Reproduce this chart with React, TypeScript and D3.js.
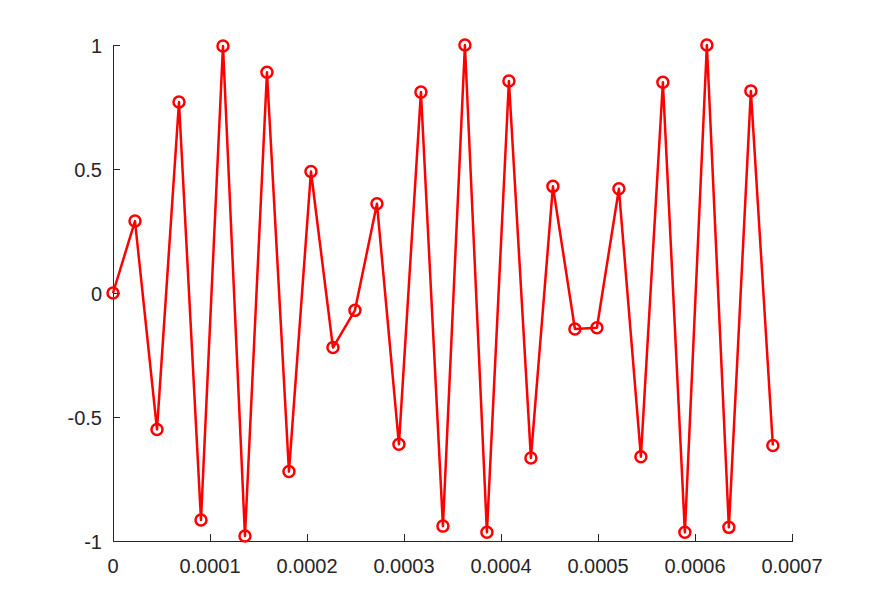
import React from "react";
import * as d3 from "d3";

const sampleRate = 44100;
const values: number[] = [
  0, 0.29, -0.55, 0.77, -0.915, 0.996, -0.98, 0.89, -0.72, 0.49,
  -0.22, -0.07, 0.36, -0.61, 0.81, -0.94, 1.0, -0.965, 0.855, -0.665,
  0.43, -0.145, -0.14, 0.42, -0.66, 0.85, -0.965, 1.0, -0.945, 0.815,
  -0.615,
];
const xTicks: number[] = [0, 0.0001, 0.0002, 0.0003, 0.0004, 0.0005, 0.0006, 0.0007];
const xTickLabels: string[] = ["0", "0.0001", "0.0002", "0.0003", "0.0004", "0.0005", "0.0006", "0.0007"];
const yTicks: number[] = [-1, -0.5, 0, 0.5, 1];
const yTickLabels: string[] = ["-1", "-0.5", "0", "0.5", "1"];

const W = 875;
const H = 608;
const left = 113;
const right = 792;
const top = 45;
const bottom = 541;

export default function App() {
  const x = d3.scaleLinear().domain([0, 0.0007]).range([left, right]);
  const y = d3.scaleLinear().domain([-1, 1]).range([bottom, top]);
  const pts = values.map((v, i) => [i / sampleRate, v] as [number, number]);
  const line = d3
    .line<[number, number]>()
    .x((d) => x(d[0]))
    .y((d) => y(d[1]));
  const axisColor = "#262626";
  const font = "'Liberation Sans', Arial, Helvetica, sans-serif";
  return (
    <svg
      width={W}
      height={H}
      style={{ position: "absolute", left: 0, top: 0, background: "#fff" }}
    >
      <rect x={0} y={0} width={W} height={H} fill="#fff" />
      <g stroke={axisColor} strokeWidth={1} fill="none" shapeRendering="crispEdges">
        <line x1={left} x2={left} y1={top} y2={bottom + 0.5} />
        <line x1={left} x2={right + 0.5} y1={bottom} y2={bottom} />
        {xTicks.map((t, i) => (
          <line key={"xt" + i} x1={x(t)} x2={x(t)} y1={bottom} y2={bottom - 7} />
        ))}
        {yTicks.map((t, i) => (
          <line key={"yt" + i} x1={left} x2={left + 7} y1={y(t)} y2={y(t)} />
        ))}
      </g>
      <g fill={axisColor} fontFamily={font} fontSize={20}>
        {xTicks.map((t, i) => (
          <text key={"xl" + i} x={x(t)} y={bottom + 32} textAnchor="middle">
            {xTickLabels[i]}
          </text>
        ))}
        {yTicks.map((t, i) => (
          <text key={"yl" + i} x={left - 11} y={y(t) + 7.5} textAnchor="end">
            {yTickLabels[i]}
          </text>
        ))}
      </g>
      <path d={line(pts) || ""} fill="none" stroke="#ff0000" strokeWidth={2.5} strokeLinejoin="round" />
      <g fill="none" stroke="#ff0000" strokeWidth={2.5}>
        {pts.map((p, i) => (
          <circle key={"c" + i} cx={x(p[0])} cy={y(p[1])} r={5.5} />
        ))}
      </g>
    </svg>
  );
}
